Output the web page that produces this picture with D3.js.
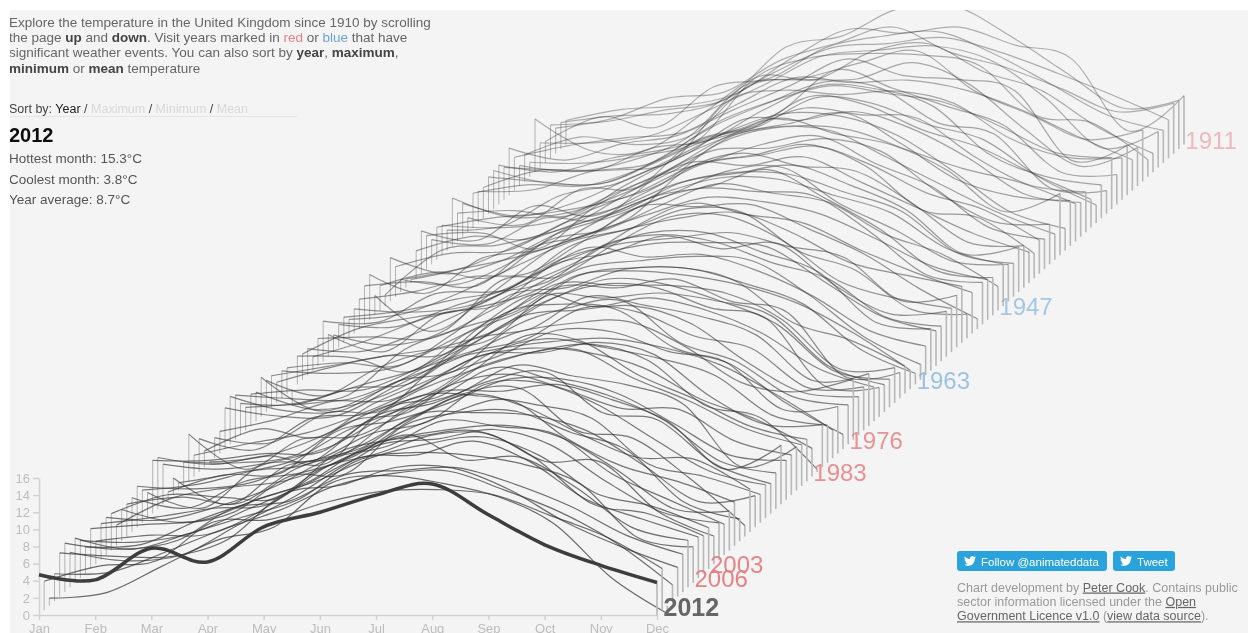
<!DOCTYPE html>
<html>
<head>
<meta charset="utf-8">
<script src="https://d3js.org/d3.v7.min.js"></script>
<style>
html, body { margin: 0; padding: 0; background: #fff; overflow: hidden; }
svg { display: block; font-family: "Liberation Sans", Arial, sans-serif; }
.axis path, .axis line { stroke: #d2d2d2; stroke-width: 1.5; }
.axis text { fill: #bdbdbd; font-size: 13px; font-family: "Liberation Sans", Arial, sans-serif; }
</style>
</head>
<body>
<script>
const months = ["Jan","Feb","Mar","Apr","May","Jun","Jul","Aug","Sep","Oct","Nov","Dec"];
const tempTicks = [0,2,4,6,8,10,12,14,16];
const firstYear = 1910;
const lastYear = 2012;
const redYears = [1911,1976,1983,2003,2006];
const blueYears = [1947,1963];

// monthly mean temperature, one row per year from 1910
const temps = [
  [2.8,4.1,4.5,5.9,10.0,13.4,13.0,13.7,11.6,10.0,1.6,5.7],
  [3.1,3.9,4.2,6.1,11.9,13.2,16.4,16.7,13.2,8.9,4.8,5.7],
  [3.0,4.1,6.5,7.2,10.9,12.9,14.8,11.9,10.1,7.6,4.9,5.9],
  [3.9,4.3,5.6,6.6,10.1,12.9,13.4,14.1,12.4,10.0,7.4,4.5],
  [2.5,5.4,4.2,8.9,9.9,13.5,14.8,15.3,12.7,9.2,5.6,3.8],
  [2.9,2.9,3.8,6.7,9.7,13.0,13.7,14.2,12.6,8.1,2.3,4.2],
  [6.2,2.5,2.6,6.9,11.2,10.8,14.1,15.0,11.7,9.6,5.3,2.2],
  [1.7,1.6,2.5,4.3,11.5,13.9,14.4,14.2,13.0,7.2,6.3,2.0],
  [3.1,5.2,4.3,5.5,11.2,12.1,13.9,15.2,10.6,7.8,4.9,6.0],
  [2.4,1.7,3.0,5.7,11.7,12.4,12.5,14.4,11.9,6.6,2.3,4.5],
  [3.9,5.3,6.2,6.8,10.2,13.2,12.6,12.9,11.8,9.5,6.4,3.6],
  [5.5,4.1,6.0,7.0,10.0,12.8,15.9,14.0,13.5,12.2,4.1,5.8],
  [3.8,3.5,3.5,4.6,11.6,12.8,12.3,12.7,11.3,7.2,5.0,4.9],
  [4.6,3.8,5.4,6.5,8.2,10.8,15.7,13.6,11.4,9.2,3.8,3.5],
  [4.5,3.0,3.1,6.0,10.2,12.7,14.4,13.5,12.5,9.7,6.6,6.0],
  [4.3,3.7,3.5,6.3,10.2,13.0,15.4,14.6,10.6,9.3,3.0,2.7],
  [3.6,5.6,5.6,8.2,9.1,12.7,15.5,15.1,13.1,7.5,4.9,3.9],
  [3.7,3.9,6.0,6.8,9.8,11.3,14.6,14.0,11.5,9.7,5.3,2.1],
  [4.0,5.0,4.9,6.9,9.8,11.7,15.3,14.3,11.4,9.4,6.2,3.3],
  [1.7,0.9,5.0,5.2,10.5,12.2,14.5,13.7,13.3,8.9,5.5,4.7],
  [3.9,2.4,4.0,6.9,9.7,13.7,13.6,14.6,12.6,9.2,5.0,4.0],
  [3.3,3.6,3.0,6.6,10.0,12.6,13.5,13.0,10.7,8.5,6.9,4.4],
  [5.6,3.4,3.8,6.0,9.0,12.9,14.3,15.5,11.9,7.7,5.8,5.3],
  [2.4,2.9,6.4,7.8,10.7,13.9,16.0,15.7,13.5,9.3,4.6,2.6],
  [3.5,3.2,4.0,7.0,9.9,13.6,16.0,14.2,12.9,9.9,5.1,7.2],
  [3.8,4.9,5.5,6.7,8.9,13.5,15.4,15.1,12.0,8.7,5.5,3.0],
  [2.9,2.4,5.4,5.3,10.2,13.3,13.6,14.7,13.2,8.5,5.0,4.7],
  [3.9,4.2,2.4,7.3,10.6,12.5,14.6,15.5,12.3,9.6,4.9,3.5],
  [5.0,3.9,7.9,6.7,9.5,12.8,13.8,14.9,12.7,9.4,7.5,3.9],
  [3.2,4.9,4.6,7.7,10.2,13.3,14.4,15.6,13.1,8.0,7.1,2.9],
  [0.4,1.9,4.7,7.2,11.0,14.1,13.7,14.7,11.8,8.8,5.8,3.6],
  [1.0,2.2,3.6,5.7,8.2,13.8,15.7,14.2,13.6,9.9,5.3,4.9],
  [1.5,0.9,3.6,7.6,9.6,12.8,13.9,14.8,12.5,9.6,4.5,5.3],
  [3.5,5.1,5.4,8.6,10.5,13.2,14.5,14.3,12.2,10.0,5.1,3.9],
  [5.1,3.2,4.8,8.0,10.0,12.5,15.2,15.6,11.4,8.3,4.7,4.3],
  [1.3,6.5,7.1,8.7,10.8,13.3,15.0,14.8,12.9,10.9,6.7,4.9],
  [2.9,4.5,3.9,8.2,9.4,12.3,14.8,13.7,12.6,8.9,6.6,2.8],
  [2.3,-1.9,2.2,7.1,11.1,13.9,15.1,17.0,13.7,10.0,5.2,4.4],
  [5.3,3.1,7.2,8.1,10.3,12.4,14.3,13.8,12.4,9.5,6.3,4.7],
  [4.5,5.0,4.5,9.0,10.5,14.1,15.9,15.5,15.0,10.8,5.8,4.9],
  [3.5,4.4,6.1,6.5,10.3,14.3,14.3,14.5,11.7,8.7,4.6,1.2],
  [2.9,2.5,3.2,5.7,8.5,12.5,15.2,13.9,12.9,9.8,7.1,4.8],
  [2.2,2.9,5.4,8.5,11.4,12.8,15.1,14.7,10.2,8.0,3.4,2.8],
  [3.0,3.7,5.1,6.5,11.2,13.2,14.6,15.2,12.8,9.4,7.9,6.6],
  [2.7,2.4,4.7,6.9,10.4,12.1,12.8,13.4,11.8,10.5,5.5,6.1],
  [2.0,0.8,2.6,8.4,8.8,12.6,15.8,15.9,13.0,8.3,6.3,5.1],
  [2.6,0.6,5.0,6.0,10.7,12.1,14.1,12.6,13.2,8.4,5.0,5.3],
  [4.7,4.6,7.9,8.1,9.3,13.6,14.8,13.9,11.5,9.6,5.2,4.1],
  [3.2,3.4,3.2,6.2,9.9,12.9,14.3,14.4,13.9,9.9,5.9,4.1],
  [1.6,3.6,6.1,7.8,11.4,14.1,16.1,16.1,13.8,11.5,5.7,4.9],
  [3.1,2.8,5.1,8.1,11.5,14.9,13.8,14.1,12.2,9.2,5.2,3.4],
  [3.0,6.0,7.3,8.3,10.0,13.1,13.9,14.4,13.9,10.0,5.0,1.8],
  [3.3,3.1,1.5,5.9,8.6,12.7,13.6,13.5,11.7,9.4,4.2,1.3],
  [-1.8,-0.7,4.6,7.1,9.1,13.1,13.8,13.3,12.1,10.0,6.5,2.2],
  [3.0,3.6,3.3,7.2,11.6,12.4,14.5,14.7,13.1,8.3,6.3,3.2],
  [3.2,2.9,3.6,6.7,10.0,13.1,12.9,13.9,11.3,10.0,2.6,3.0],
  [2.4,4.2,5.5,5.7,10.0,13.9,13.7,13.7,12.8,9.7,4.0,4.1],
  [3.7,4.8,6.0,7.0,9.0,12.7,15.0,14.4,12.4,9.7,4.3,3.3],
  [3.7,1.9,5.2,7.3,8.5,13.6,13.3,13.9,13.0,11.2,5.4,3.2],
  [4.6,0.7,2.7,6.1,9.4,13.3,15.4,15.1,12.7,11.4,3.7,3.4],
  [3.4,1.4,2.4,5.5,11.1,14.9,13.4,14.4,13.0,10.3,6.2,4.0],
  [3.7,4.2,4.2,6.8,10.2,11.4,15.1,14.1,12.8,10.6,5.3,6.1],
  [2.7,3.3,5.2,7.0,9.2,10.7,14.3,13.8,11.0,9.6,5.0,5.1],
  [3.7,3.6,5.5,6.0,10.1,13.9,14.6,15.1,13.1,8.6,5.0,4.5],
  [5.2,4.8,4.7,7.1,9.6,12.5,13.6,13.8,10.9,6.7,5.6,7.1],
  [5.6,3.9,4.0,7.4,8.6,13.6,15.9,16.7,11.9,9.7,5.6,4.6],
  [4.8,3.8,3.9,7.2,10.7,15.9,16.9,16.2,11.8,9.9,5.3,1.7],
  [2.6,4.0,6.1,6.2,9.2,11.5,14.4,14.2,11.9,10.7,5.2,5.5],
  [2.4,1.8,5.3,5.6,10.9,12.7,13.6,14.0,12.9,10.9,7.4,3.3],
  [0.1,0.8,3.1,6.3,8.4,12.8,14.5,13.5,12.2,10.2,5.6,4.4],
  [1.9,4.5,3.5,7.4,10.2,13.2,13.4,14.6,13.2,8.3,5.0,5.0],
  [3.9,2.6,6.3,6.8,9.8,12.2,14.1,14.9,13.0,7.8,6.3,0.3],
  [2.5,3.9,5.1,7.4,10.3,13.9,15.0,14.5,12.7,9.1,6.7,3.3],
  [5.5,1.4,4.9,5.3,8.7,12.6,17.0,16.3,12.4,9.6,6.4,4.9],
  [2.8,2.7,3.6,7.6,8.6,13.1,15.3,15.9,12.6,9.9,6.7,4.8],
  [0.9,2.0,3.4,7.0,9.5,11.4,14.6,13.4,12.3,10.0,2.8,5.1],
  [2.0,-1.1,3.4,4.6,9.5,13.0,14.1,12.3,10.1,10.0,6.3,4.7],
  [0.9,2.9,3.1,8.0,9.2,11.3,14.0,14.1,12.4,8.9,5.2,4.6],
  [4.7,4.1,5.0,6.8,10.4,13.2,13.2,14.0,12.2,9.6,4.1,6.9],
  [6.0,5.2,6.2,5.3,11.5,13.1,16.5,15.1,13.3,10.4,5.6,4.2],
  [6.2,6.2,7.0,7.2,11.5,12.9,15.5,16.5,11.8,10.9,5.8,3.5],
  [3.0,1.2,6.1,6.8,9.9,11.3,15.6,15.8,13.3,9.3,5.5,3.9],
  [3.8,4.5,6.1,7.0,11.8,14.9,14.8,13.8,12.2,6.9,5.4,3.3],
  [4.8,4.5,5.2,7.6,9.3,13.2,13.4,13.1,11.3,7.3,3.0,3.7],
  [4.0,2.8,5.9,6.9,9.0,13.2,16.1,14.6,11.4,8.7,8.5,5.0],
  [3.8,4.6,3.9,7.9,10.1,13.6,16.7,17.3,12.4,11.5,6.9,1.3],
  [3.7,2.2,3.4,7.6,7.9,13.4,15.0,15.2,12.7,10.6,4.6,2.6],
  [2.4,5.6,6.8,7.6,10.0,13.1,15.6,17.0,12.6,9.3,7.5,5.1],
  [4.3,6.5,6.2,6.2,11.3,13.0,14.1,14.6,13.2,9.4,4.9,4.6],
  [4.4,4.1,5.7,8.0,11.3,12.7,15.7,15.0,14.1,9.5,6.5,3.6],
  [4.2,5.0,6.0,6.5,10.8,13.5,14.1,15.2,13.4,9.1,5.5,4.3],
  [2.7,3.4,3.5,6.5,11.1,12.9,15.1,15.2,12.0,11.9,6.2,3.3],
  [4.7,5.2,5.7,8.2,10.2,13.0,14.6,15.4,13.2,8.8,7.3,4.8],
  [3.1,3.4,6.2,8.5,10.8,14.8,16.1,16.6,13.5,8.2,7.0,4.4],
  [4.4,4.2,5.3,8.1,10.9,14.1,14.4,16.0,13.6,9.2,6.9,4.8],
  [5.2,3.9,5.7,7.7,9.8,14.2,15.2,14.9,13.8,11.5,5.3,4.2],
  [4.1,3.1,3.8,7.3,10.6,14.7,17.8,14.9,15.2,11.7,7.0,5.5],
  [5.7,5.0,6.0,9.8,10.6,13.7,14.2,14.5,12.6,10.0,6.6,4.4],
  [5.1,4.7,4.7,6.7,12.0,13.0,15.1,15.0,12.5,8.7,5.8,3.4],
  [3.2,3.4,5.8,8.4,10.6,13.5,14.9,15.2,13.0,10.4,6.8,1.9],
  [0.9,1.5,4.6,7.7,9.2,14.3,15.2,14.3,12.7,9.5,3.3,-0.9],
  [3.4,5.2,5.8,10.3,10.6,12.6,13.9,14.1,13.5,11.1,8.6,4.9],
  [4.7,4.1,7.8,6.2,10.3,12.0,14.0,15.3,11.7,8.2,5.8,3.8]
];

const width = 1248, height = 633;

const x = d3.scalePoint().domain(months).range([39, 657]);
const y = d3.scaleLinear().domain([0, 16]).range([615, 478]);
// each older year steps back up and to the right
const depthX = d3.scaleLinear().domain([lastYear, firstYear]).range([0, 527]);
const depthY = d3.scaleLinear().domain([lastYear, firstYear]).range([0, -470.5]);
const fade = d3.scaleLinear().domain([firstYear, lastYear]).range([0.36, 0.72]);
const labelFade = d3.scaleLinear().domain([firstYear, lastYear]).range([0.5, 1]);

const svg = d3.select("body").append("svg")
    .attr("width", width)
    .attr("height", height);

const defs = svg.append("defs");
defs.append("clipPath").attr("id", "page")
  .append("rect").attr("x", 10).attr("y", 10).attr("width", width - 10).attr("height", height - 10);
// the reference is a soft screenshot
defs.append("filter").attr("id", "soft")
    .attr("filterUnits", "userSpaceOnUse")
    .attr("x", 0).attr("y", 0).attr("width", width).attr("height", height)
  .append("feGaussianBlur").attr("stdDeviation", 0.4);

const page = svg.append("g").attr("clip-path", "url(#page)");

page.append("rect")
    .attr("width", width)
    .attr("height", height)
    .attr("fill", "#f4f4f4");

const chart = page.append("g").attr("filter", "url(#soft)");

// axes
const xAxis = chart.append("g")
    .attr("class", "axis")
    .attr("transform", `translate(0,${y(0)})`)
    .call(d3.axisBottom(x).tickSize(5).tickSizeOuter(0).tickPadding(4));

const yAxis = chart.append("g")
    .attr("class", "axis")
    .attr("transform", `translate(${x("Jan")},0)`)
    .call(d3.axisLeft(y).tickValues(tempTicks).tickSize(6).tickSizeOuter(0).tickPadding(3));

// one group per year, oldest at the back
const rows = temps.map((values, i) => ({ year: firstYear + i, values }));

const line = d3.line()
    .x((d, i) => x(months[i]))
    .y(d => y(d))
    .curve(d3.curveCardinal);

const yearG = chart.append("g").selectAll("g")
    .data(rows)
    .enter().append("g")
    .attr("transform", d => `translate(${depthX(d.year)},${depthY(d.year)})`);

yearG.append("line")
    .attr("x1", x("Jan")).attr("x2", x("Jan"))
    .attr("y1", y(0))
    .attr("y2", d => y(d.values[0]))
    .attr("stroke", "#999")
    .attr("stroke-width", 1)
    .attr("opacity", d => d.year === lastYear ? 0 : 0.7);

yearG.append("line")
    .attr("x1", x("Dec")).attr("x2", x("Dec"))
    .attr("y1", y(0))
    .attr("y2", d => y(d.values[11]))
    .attr("stroke", "#b8b8b8")
    .attr("stroke-width", 1.6);

yearG.append("path")
    .attr("d", d => line(d.values))
    .attr("fill", "none")
    .attr("stroke", d => d.year === lastYear ? "#3c3c3c" : "#333")
    .attr("stroke-width", d => d.year === lastYear ? 3.5 : 1.2)
    .attr("opacity", d => d.year === lastYear ? 1 : fade(d.year));

// year labels at the end of marked lines
function yearLabel(year, color, weight, size, dy) {
  chart.append("text")
      .attr("x", x("Dec") + depthX(year) + 6.5)
      .attr("y", y(0) + depthY(year) + dy)
      .attr("fill", color)
      .attr("font-size", size)
      .attr("font-weight", weight)
      .attr("opacity", labelFade(year))
      .text(year);
}
redYears.forEach(d => yearLabel(d, "#e57f83", "normal", 24, 0));
blueYears.forEach(d => yearLabel(d, "#7fb2de", "normal", 24, 0));
yearLabel(lastYear, "#666", "bold", 25, 1);

// intro text
const introLines = [
  [["Explore the temperature in the United Kingdom since 1910 by scrolling"]],
  [["the page "],["up","b"],[" and "],["down","b"],[". Visit years marked in "],["red","r"],[" or "],["blue","l"],[" that have"]],
  [["significant weather events. You can also sort by "],["year","b"],[", "],["maximum","b"],[","]],
  [["minimum","b"],[" or "],["mean","b"],[" temperature"]]
];
const intro = chart.append("text").attr("font-size", 13.5).attr("fill", "#666");
introLines.forEach((parts, i) => {
  parts.forEach((p, j) => {
    const t = intro.append("tspan").text(p[0]);
    if (j === 0) t.attr("x", 9).attr("y", 26.5 + i * 15.4);
    if (p[1] === "b") t.attr("font-weight", "bold").attr("fill", "#444");
    if (p[1] === "r") t.attr("fill", "#e57f83");
    if (p[1] === "l") t.attr("fill", "#6aa5d8");
  });
});

// sort menu
const sortParts = [["Sort by: ","#444"],["Year","#222"],[" / ","#444"],["Maximum","#d8d8d8"],[" / ","#444"],["Minimum","#d8d8d8"],[" / ","#444"],["Mean","#d8d8d8"]];
const sortText = chart.append("text").attr("x", 9).attr("y", 112.5).attr("font-size", 12.5);
sortParts.forEach(p => sortText.append("tspan").attr("fill", p[1]).text(p[0]));

chart.append("line")
    .attr("x1", 9).attr("x2", 297)
    .attr("y1", 116.5).attr("y2", 116.5)
    .attr("stroke", "#e6e6e6");

chart.append("text")
    .attr("x", 9).attr("y", 142)
    .attr("font-size", 20).attr("font-weight", "bold").attr("fill", "#111")
    .text("2012");

const statLines = ["Hottest month: 15.3°C", "Coolest month: 3.8°C", "Year average: 8.7°C"];
chart.selectAll(".stat").data(statLines).enter().append("text")
    .attr("class", "stat")
    .attr("x", 9)
    .attr("y", (d, i) => 163 + i * 20.7)
    .attr("font-size", 13.5)
    .attr("fill", "#555")
    .text(d => d);

// share buttons
const birdPath = "M23.953 4.57a10 10 0 01-2.825.775 4.958 4.958 0 002.163-2.723c-.951.555-2.005.959-3.127 1.184a4.92 4.92 0 00-8.384 4.482C7.69 8.095 4.067 6.13 1.64 3.162a4.822 4.822 0 00-.666 2.475c0 1.71.87 3.213 2.188 4.096a4.904 4.904 0 01-2.228-.616v.06a4.923 4.923 0 003.946 4.827 4.996 4.996 0 01-2.212.085 4.936 4.936 0 004.604 3.417 9.867 9.867 0 01-6.102 2.105c-.39 0-.779-.023-1.17-.067a13.995 13.995 0 007.557 2.209c9.053 0 13.998-7.496 13.998-13.985 0-.21 0-.42-.015-.63A9.935 9.935 0 0024 4.59z";
function shareButton(left, right, label) {
  const g = chart.append("g").attr("transform", `translate(${left},551)`);
  g.append("rect").attr("width", right - left).attr("height", 20).attr("rx", 3).attr("fill", "#2ba3dd");
  g.append("path").attr("d", birdPath).attr("fill", "#fff").attr("transform", "translate(7,4) scale(0.5)");
  g.append("text").attr("x", 24).attr("y", 14.5).attr("font-size", 11.5).attr("fill", "#fff").text(label);
}
shareButton(957, 1107, "Follow @animateddata");
shareButton(1113, 1175, "Tweet");

// credits
const creditLines = [
  [["Chart development by "],["Peter Cook","u"],[". Contains public"]],
  [["sector information licensed under the "],["Open","u"]],
  [["Government Licence v1.0","u"],[" ("],["view data source","u"],[")."]]
];
const credits = chart.append("text").attr("font-size", 12.5).attr("fill", "#999");
creditLines.forEach((parts, i) => {
  parts.forEach((p, j) => {
    const t = credits.append("tspan").text(p[0]);
    if (j === 0) t.attr("x", 957).attr("y", 591.5 + i * 14.4);
    if (p[1] === "u") t.attr("fill", "#666").attr("text-decoration", "underline");
  });
});
</script>
</body>
</html>
